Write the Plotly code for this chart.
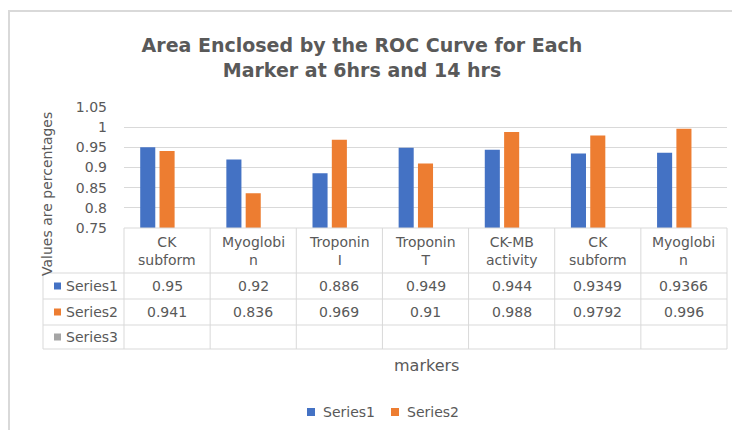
import plotly.graph_objects as go

# ---- data ----
categories = ["CK subform", "Myoglobin", "Troponin I", "Troponin T",
              "CK-MB activity", "CK subform", "Myoglobin"]
category_labels = ["CK<br>subform", "Myoglobi<br>n", "Troponin<br>I", "Troponin<br>T",
                   "CK-MB<br>activity", "CK<br>subform", "Myoglobi<br>n"]
series_names = ["Series1", "Series2", "Series3"]
series1 = [0.95, 0.92, 0.886, 0.949, 0.944, 0.9349, 0.9366]
series2 = [0.941, 0.836, 0.969, 0.91, 0.988, 0.9792, 0.996]
series3 = [None] * 7
y_ticks = [0.75, 0.8, 0.85, 0.9, 0.95, 1.0, 1.05]
y_tick_labels = ["0.75", "0.8", "0.85", "0.9", "0.95", "1", "1.05"]

colors = ["#4472C4", "#ED7D31", "#A5A5A5"]
FONT = "DejaVu Sans"
TXT = "#595959"
GRID = "#D9D9D9"

W, H = 740, 430
OFF = 8  # page body margin offset
L, R, T, B = 124 - OFF, 727 - OFF, 107 - OFF, 228 - OFF


def px(x):
    return (x - OFF - L) / (R - L)


def py(y):
    return (B - (y - OFF)) / (B - T)


idx = list(range(len(categories)))
fig = go.Figure()
for name, vals, col in zip(series_names, [series1, series2, series3], colors):
    fig.add_trace(go.Bar(x=idx, y=vals, name=name, marker=dict(color=col, line=dict(width=0)),
                         showlegend=False, hovertext=categories))

shapes = []
annotations = []

# outer chart border
shapes.append(dict(type="rect", xref="paper", yref="paper", x0=px(9), x1=px(780),
                   y0=py(11), y1=py(480), line=dict(color=GRID, width=2)))

# data table grid
rows = [228, 273, 299, 325, 349]
ncol = len(categories)
shapes.append(dict(type="line", xref="paper", yref="paper", x0=0, x1=1, y0=py(rows[0]), y1=py(rows[0]),
                   line=dict(color=GRID, width=1)))
for r in rows[1:]:
    shapes.append(dict(type="line", xref="paper", yref="paper", x0=px(43), x1=1, y0=py(r), y1=py(r),
                       line=dict(color=GRID, width=1)))
for i in range(ncol + 1):
    xx = i / ncol
    shapes.append(dict(type="line", xref="paper", yref="paper", x0=xx, x1=xx, y0=py(rows[0]), y1=py(rows[-1]),
                       line=dict(color=GRID, width=1)))
shapes.append(dict(type="line", xref="paper", yref="paper", x0=px(43), x1=px(43), y0=py(rows[1]), y1=py(rows[-1]),
                   line=dict(color=GRID, width=1)))

# header row (category labels)
for i, lab in enumerate(category_labels):
    annotations.append(dict(xref="x", yref="paper", x=i, y=py((rows[0] + rows[1]) / 2), text=lab,
                            showarrow=False, xanchor="center", yanchor="middle",
                            font=dict(family=FONT, size=14, color=TXT)))

# series rows
for k, (name, vals, col) in enumerate(zip(series_names, [series1, series2, series3], colors)):
    yc = (rows[k + 1] + rows[k + 2]) / 2
    shapes.append(dict(type="rect", xref="paper", yref="paper", x0=px(54), x1=px(61),
                       y0=py(yc + 3.5), y1=py(yc - 3.5), fillcolor=col, line=dict(width=0)))
    annotations.append(dict(xref="paper", yref="paper", x=px(64), y=py(yc), text=name,
                            showarrow=False, xanchor="left", yanchor="middle",
                            font=dict(family=FONT, size=14, color=TXT)))
    for i, v in enumerate(vals):
        if v is None:
            continue
        annotations.append(dict(xref="x", yref="paper", x=i, y=py(yc), text=str(v),
                                showarrow=False, xanchor="center", yanchor="middle",
                                font=dict(family=FONT, size=14, color=TXT)))

# axis titles
annotations.append(dict(xref="paper", yref="paper", x=px(47), y=py(194), text="Values are percentages",
                        textangle=-90, showarrow=False, xanchor="center", yanchor="middle",
                        font=dict(family=FONT, size=14, color=TXT)))
annotations.append(dict(xref="paper", yref="paper", x=px(426), y=py(365), text="markers",
                        showarrow=False, xanchor="center", yanchor="middle",
                        font=dict(family=FONT, size=16, color=TXT)))

# legend (Series1, Series2)
leg = [(307, 321, 0), (391, 405, 1)]
for sx, tx, k in leg:
    shapes.append(dict(type="rect", xref="paper", yref="paper", x0=px(sx), x1=px(sx + 8),
                       y0=py(416), y1=py(408), fillcolor=colors[k], line=dict(width=0)))
    annotations.append(dict(xref="paper", yref="paper", x=px(tx), y=py(412), text=series_names[k],
                            showarrow=False, xanchor="left", yanchor="middle",
                            font=dict(family=FONT, size=14, color=TXT)))

fig.update_layout(
    width=W, height=H, autosize=False,
    margin=dict(l=L, r=W - R, t=T, b=H - B, pad=0),
    paper_bgcolor="white", plot_bgcolor="white",
    title=dict(text="<b>Area Enclosed by the ROC Curve for Each<br>Marker at 6hrs and 14 hrs</b>",
               x=(362 - OFF) / W, xanchor="center", y=1 - (52 - OFF) / H, yanchor="middle",
               font=dict(family=FONT, size=19, color=TXT)),
    barmode="group", bargap=0.327, bargroupgap=0.22,
    xaxis=dict(range=[-0.5, 6.5], showticklabels=False, showgrid=False, zeroline=False,
               showline=False, ticks=""),
    yaxis=dict(range=[0.75, 1.05], tickvals=y_ticks, ticktext=y_tick_labels,
               gridcolor=GRID, gridwidth=1, zeroline=False, showline=False, ticks="",
               ticklabelstandoff=16, tickfont=dict(family=FONT, size=14, color=TXT)),
    shapes=shapes, annotations=annotations,
)

fig.write_html("out.html")
